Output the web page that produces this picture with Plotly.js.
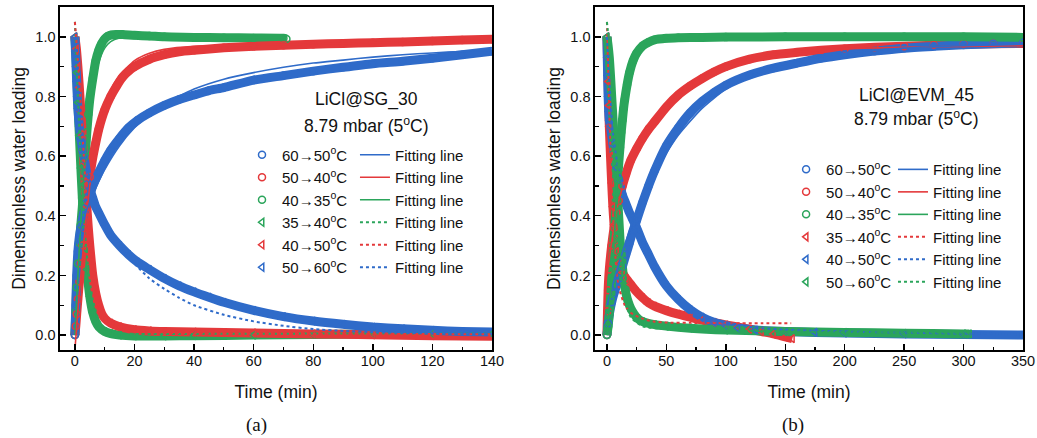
<!DOCTYPE html>
<html>
<head>
<meta charset="utf-8">
<script src="https://cdn.plot.ly/plotly-3.0.1.min.js"></script>
<style>html,body{margin:0;padding:0;background:#fff;}#chart{width:1037px;height:438px;}</style>
</head>
<body>
<div id="chart"></div>
<script>
// ---------- Panel (a): LiCl@SG_30 ----------
const a_t_60to50 = [0, 0.3, 0.6, 1, 1.5, 2, 3, 4, 5, 6, 8, 10, 12, 15, 18, 21, 25, 30, 35, 40, 45, 50, 60, 70, 80, 90, 100, 110, 120, 130, 140];
const a_y_60to50 = [0.0, 0.1, 0.2, 0.28, 0.33, 0.36, 0.41, 0.445, 0.47, 0.50, 0.545, 0.585, 0.62, 0.66, 0.695, 0.72, 0.745, 0.77, 0.79, 0.805, 0.82, 0.83, 0.855, 0.87, 0.885, 0.898, 0.91, 0.918, 0.928, 0.94, 0.952];
const a_ft_60to50 = [0, 2, 4, 6, 8, 10, 15, 20, 25, 30, 40, 50, 60, 70, 80, 90, 100, 110, 120, 130, 140];
const a_fy_60to50 = [0.3, 0.36, 0.42, 0.47, 0.515, 0.555, 0.635, 0.695, 0.74, 0.775, 0.825, 0.858, 0.88, 0.898, 0.912, 0.922, 0.932, 0.94, 0.946, 0.951, 0.955];

const a_t_50to40 = [0, 0.3, 0.6, 1, 1.5, 2, 2.5, 3, 4, 5, 6, 7, 8, 10, 12, 14, 16, 18, 20, 25, 30, 35, 40, 50, 60, 70, 80, 90, 100, 110, 120, 130, 140];
const a_y_50to40 = [0.0, 0.03, 0.07, 0.12, 0.18, 0.24, 0.3, 0.36, 0.45, 0.53, 0.595, 0.645, 0.69, 0.755, 0.8, 0.835, 0.865, 0.885, 0.9, 0.925, 0.94, 0.95, 0.955, 0.963, 0.968, 0.972, 0.975, 0.978, 0.98, 0.983, 0.986, 0.989, 0.992];
const a_ft_50to40 = [0, 1, 2, 3, 4, 5, 6, 8, 10, 12, 15, 20, 25, 30, 40, 60, 80, 100, 120, 140];
const a_fy_50to40 = [-0.05, 0.08, 0.2, 0.31, 0.41, 0.5, 0.57, 0.68, 0.76, 0.82, 0.87, 0.92, 0.945, 0.958, 0.968, 0.972, 0.976, 0.98, 0.985, 0.99];

const a_t_40to35 = [0, 0.3, 0.6, 1, 1.5, 2, 2.5, 3, 3.5, 4, 4.5, 5, 6, 7, 8, 9, 10, 11, 12, 14, 16, 20, 25, 30, 40, 50, 60, 70, 71];
const a_y_40to35 = [0.0, 0.08, 0.16, 0.24, 0.31, 0.37, 0.43, 0.5, 0.6, 0.68, 0.74, 0.79, 0.86, 0.92, 0.955, 0.978, 0.993, 1.002, 1.006, 1.008, 1.008, 1.005, 1.003, 1.0, 0.998, 0.997, 0.996, 0.995, 0.993];
const a_ft_40to35 = [0, 1, 2, 3, 4, 5, 6, 7, 8, 10, 12, 15, 20, 30, 50, 71];
const a_fy_40to35 = [0.0, 0.2, 0.38, 0.53, 0.65, 0.75, 0.82, 0.875, 0.915, 0.962, 0.984, 0.996, 1.0, 1.0, 0.999, 0.997];

const a_t_35to40 = [0, 0.3, 0.6, 1, 1.5, 2, 2.5, 3, 3.5, 4, 5, 6, 7, 8, 10, 12, 15, 20, 30, 40, 60, 80, 100, 120, 140];
const a_y_35to40 = [1.0, 0.95, 0.88, 0.78, 0.67, 0.56, 0.46, 0.37, 0.29, 0.22, 0.13, 0.075, 0.045, 0.028, 0.012, 0.005, 0.0, -0.003, -0.003, -0.002, 0.0, 0.002, 0.003, 0.004, 0.005];
const a_ft_35to40 = [0, 1, 2, 3, 4, 5, 6, 8, 10, 15, 20, 40, 80, 140];
const a_fy_35to40 = [1.05, 0.8, 0.58, 0.4, 0.27, 0.18, 0.12, 0.05, 0.022, 0.006, 0.004, 0.004, 0.005, 0.005];

const a_t_40to50 = [0, 0.5, 1, 1.5, 2, 2.5, 3, 3.5, 4, 4.5, 5, 6, 7, 8, 9, 10, 12, 15, 20, 25, 30, 40, 60, 80, 100, 120, 140];
const a_y_40to50 = [1.0, 0.96, 0.9, 0.83, 0.75, 0.67, 0.58, 0.5, 0.43, 0.36, 0.3, 0.2, 0.14, 0.1, 0.072, 0.056, 0.04, 0.028, 0.018, 0.014, 0.012, 0.01, 0.007, 0.004, 0.001, -0.002, -0.004];
const a_ft_40to50 = [0, 1, 2, 3, 4, 5, 6, 8, 10, 15, 20, 40, 80, 140];
const a_fy_40to50 = [1.05, 0.92, 0.77, 0.6, 0.45, 0.33, 0.24, 0.12, 0.065, 0.025, 0.012, 0.006, 0.004, 0.003];

const a_t_50to60 = [0, 0.2, 0.4, 0.6, 0.8, 1, 1.5, 2, 3, 4, 5, 6, 7, 8, 10, 12, 15, 18, 21, 25, 30, 35, 40, 45, 50, 60, 70, 80, 90, 100, 110, 120, 130, 140];
const a_y_50to60 = [1.0, 0.95, 0.9, 0.85, 0.8, 0.76, 0.7, 0.66, 0.6, 0.54, 0.49, 0.46, 0.43, 0.41, 0.37, 0.335, 0.3, 0.27, 0.245, 0.22, 0.19, 0.165, 0.145, 0.127, 0.11, 0.083, 0.062, 0.047, 0.036, 0.027, 0.021, 0.016, 0.012, 0.01];
const a_ft_50to60 = [0, 2, 5, 8, 12, 16, 20, 25, 30, 35, 40, 50, 60, 70, 80, 90, 100, 120, 140];
const a_fy_50to60 = [1.0, 0.72, 0.52, 0.43, 0.35, 0.29, 0.24, 0.19, 0.155, 0.125, 0.1, 0.068, 0.046, 0.031, 0.02, 0.014, 0.01, 0.006, 0.004];

// ---------- Panel (b): LiCl@EVM_45 ----------
const b_t_60to50 = [0, 1, 2, 4, 6, 8, 10, 13, 16, 19, 22, 25, 30, 35, 40, 50, 60, 70, 80, 90, 100, 120, 140, 160, 180, 200, 225, 250, 275, 300, 325, 350];
const b_y_60to50 = [0.0, 0.04, 0.07, 0.11, 0.14, 0.165, 0.19, 0.23, 0.27, 0.31, 0.35, 0.385, 0.445, 0.5, 0.55, 0.635, 0.695, 0.745, 0.783, 0.813, 0.838, 0.872, 0.895, 0.912, 0.928, 0.94, 0.952, 0.962, 0.968, 0.973, 0.977, 0.98];
const b_ft_60to50 = [0, 5, 10, 20, 30, 40, 50, 60, 80, 100, 120, 150, 200, 250, 300, 350];
const b_fy_60to50 = [0.1, 0.17, 0.24, 0.36, 0.46, 0.54, 0.61, 0.67, 0.76, 0.825, 0.868, 0.91, 0.945, 0.962, 0.97, 0.975];

const b_t_50to40 = [0, 0.5, 1, 2, 4, 6, 8, 10, 13, 16, 20, 25, 30, 35, 40, 50, 60, 70, 80, 90, 100, 120, 140, 160, 180, 200, 225, 250, 275, 300, 325, 350];
const b_y_50to40 = [0.0, 0.08, 0.15, 0.22, 0.3, 0.36, 0.41, 0.45, 0.5, 0.54, 0.585, 0.625, 0.66, 0.69, 0.715, 0.765, 0.805, 0.835, 0.86, 0.882, 0.9, 0.925, 0.94, 0.948, 0.955, 0.96, 0.965, 0.968, 0.972, 0.975, 0.977, 0.978];
const b_ft_50to40 = [0, 5, 10, 20, 30, 40, 60, 80, 100, 125, 150, 200, 250, 300, 350];
const b_fy_50to40 = [0.2, 0.34, 0.45, 0.58, 0.66, 0.72, 0.81, 0.87, 0.905, 0.93, 0.945, 0.96, 0.965, 0.968, 0.97];

const b_t_40to35 = [0, 1, 2, 3, 4, 5, 6, 7, 8, 9, 10, 11, 12, 13, 14, 15, 17, 19, 22, 25, 30, 35, 40, 50, 60, 80, 100, 150, 200, 250, 300, 350];
const b_y_40to35 = [0.0, 0.03, 0.07, 0.12, 0.18, 0.25, 0.32, 0.39, 0.46, 0.52, 0.58, 0.63, 0.68, 0.72, 0.76, 0.79, 0.84, 0.88, 0.92, 0.945, 0.97, 0.982, 0.99, 0.995, 0.997, 0.998, 0.999, 1.0, 1.0, 1.0, 1.0, 0.998];
const b_ft_40to35 = [0, 5, 10, 15, 20, 25, 30, 40, 60, 100, 200, 350];
const b_fy_40to35 = [0.0, 0.24, 0.6, 0.8, 0.9, 0.95, 0.975, 0.992, 0.999, 1.0, 1.0, 1.0];

const b_t_35to40 = [0, 0.5, 1, 1.5, 2, 3, 4, 5, 6, 7, 8, 10, 13, 16, 20, 25, 30, 35, 40, 50, 60, 70, 80, 90, 100, 110, 120, 130, 140, 150, 156];
const b_y_35to40 = [1.0, 0.93, 0.85, 0.77, 0.7, 0.6, 0.51, 0.43, 0.37, 0.32, 0.28, 0.24, 0.21, 0.19, 0.17, 0.145, 0.125, 0.108, 0.097, 0.082, 0.07, 0.06, 0.05, 0.042, 0.034, 0.027, 0.02, 0.012, 0.004, -0.006, -0.012];
const b_ft_35to40 = [0, 2, 4, 6, 8, 10, 15, 20, 30, 40, 50, 70, 100, 130, 155];
const b_fy_35to40 = [1.05, 0.75, 0.5, 0.33, 0.22, 0.16, 0.1, 0.075, 0.055, 0.045, 0.042, 0.041, 0.04, 0.04, 0.04];

const b_t_40to50 = [0, 0.3, 0.6, 1, 1.5, 2, 3, 5, 8, 10, 13, 16, 19, 22, 25, 30, 35, 40, 50, 60, 70, 80, 90, 100, 110, 125, 150, 175, 200, 250, 300, 350];
const b_y_40to50 = [1.0, 0.93, 0.87, 0.8, 0.75, 0.72, 0.7, 0.64, 0.56, 0.52, 0.47, 0.44, 0.41, 0.385, 0.36, 0.31, 0.27, 0.23, 0.165, 0.12, 0.085, 0.06, 0.043, 0.032, 0.024, 0.017, 0.012, 0.009, 0.007, 0.004, 0.002, 0.0];
const b_ft_40to50 = [0, 5, 10, 20, 30, 40, 60, 80, 100, 125, 150, 200, 250, 300, 350];
const b_fy_40to50 = [1.0, 0.68, 0.55, 0.42, 0.32, 0.24, 0.13, 0.07, 0.04, 0.025, 0.018, 0.012, 0.008, 0.005, 0.003];

const b_t_50to60 = [0, 1, 2, 3, 4, 5, 6, 7, 8, 9, 10, 11, 12, 13, 14, 16, 18, 20, 23, 26, 30, 40, 50, 70, 100, 150, 200, 250, 300, 305];
const b_y_50to60 = [1.0, 0.97, 0.93, 0.87, 0.8, 0.73, 0.66, 0.6, 0.54, 0.46, 0.39, 0.32, 0.27, 0.23, 0.19, 0.14, 0.11, 0.09, 0.07, 0.055, 0.045, 0.035, 0.03, 0.023, 0.017, 0.012, 0.009, 0.006, 0.004, 0.004];
const b_ft_50to60 = [0, 2, 4, 6, 8, 10, 12, 15, 20, 30, 50, 100, 200, 305];
const b_fy_50to60 = [1.05, 0.97, 0.85, 0.68, 0.5, 0.35, 0.24, 0.13, 0.06, 0.03, 0.02, 0.015, 0.01, 0.008];

// legend / text labels
const labels = ['60→50<sup>o</sup>C', '50→40<sup>o</sup>C', '40→35<sup>o</sup>C', '35→40<sup>o</sup>C', '40→50<sup>o</sup>C', '50→60<sup>o</sup>C'];
const fitLabel = 'Fitting line';

const BLUE = '#2f6bc9', RED = '#e4393b', GREEN = '#2ba55b';

function band(x, y, color, xa, ya) {
  return {x: x, y: y, xaxis: xa, yaxis: ya, type: 'scatter', mode: 'lines',
    line: {color: color, width: 9, shape: 'spline', smoothing: 0.6},
    showlegend: false, hoverinfo: 'skip'};
}
function pts(x, y, color, symbol, name, xa, ya, leg, rank) {
  return {x: x, y: y, xaxis: xa, yaxis: ya, type: 'scatter', mode: 'markers', name: name,
    marker: {symbol: symbol, size: 7, color: color, line: {color: color, width: 1.5}},
    legend: leg, legendrank: rank, showlegend: true};
}
function fit(x, y, color, dash, xa, ya, leg, rank) {
  return {x: x, y: y, xaxis: xa, yaxis: ya, type: 'scatter', mode: 'lines', name: fitLabel,
    line: {color: color, width: dash === 'solid' ? 1.6 : 2, dash: dash, shape: 'spline', smoothing: 0.6},
    legend: leg, legendrank: rank, showlegend: true};
}

// panel series tables: [t, y, fit t, fit y, color, symbol, dash, label index]
const seriesA = [
  [a_t_40to35, a_y_40to35, a_ft_40to35, a_fy_40to35, GREEN, 'circle-open', 'solid', 2],
  [a_t_35to40, a_y_35to40, a_ft_35to40, a_fy_35to40, GREEN, 'triangle-left-open', 'dot', 3],
  [a_t_50to40, a_y_50to40, a_ft_50to40, a_fy_50to40, RED, 'circle-open', 'solid', 1],
  [a_t_40to50, a_y_40to50, a_ft_40to50, a_fy_40to50, RED, 'triangle-left-open', 'dot', 4],
  [a_t_60to50, a_y_60to50, a_ft_60to50, a_fy_60to50, BLUE, 'circle-open', 'solid', 0],
  [a_t_50to60, a_y_50to60, a_ft_50to60, a_fy_50to60, BLUE, 'triangle-left-open', 'dot', 5]
];
const seriesB = [
  [b_t_50to40, b_y_50to40, b_ft_50to40, b_fy_50to40, RED, 'circle-open', 'solid', 1],
  [b_t_35to40, b_y_35to40, b_ft_35to40, b_fy_35to40, RED, 'triangle-left-open', 'dot', 3],
  [b_t_60to50, b_y_60to50, b_ft_60to50, b_fy_60to50, BLUE, 'circle-open', 'solid', 0],
  [b_t_40to50, b_y_40to50, b_ft_40to50, b_fy_40to50, BLUE, 'triangle-left-open', 'dot', 4],
  [b_t_40to35, b_y_40to35, b_ft_40to35, b_fy_40to35, GREEN, 'circle-open', 'solid', 2],
  [b_t_50to60, b_y_50to60, b_ft_50to60, b_fy_50to60, GREEN, 'triangle-left-open', 'dot', 5]
];

const traces = [];
function addPanel(series, xa, ya, legM, legF) {
  series.forEach(s => traces.push(band(s[0], s[1], s[4], xa, ya)));
  series.forEach(s => traces.push(pts(s[0], s[1], s[4], s[5], labels[s[7]], xa, ya, legM, s[7] + 1)));
  series.forEach(s => traces.push(fit(s[2], s[3], s[4], s[6], xa, ya, legF, s[7] + 1)));
}
addPanel(seriesA, 'x', 'y', 'legend', 'legend2');
addPanel(seriesB, 'x2', 'y2', 'legend3', 'legend4');

const FONT = 'Liberation Sans, Arial, sans-serif';
function xaxisDef(domain, range, dtick, minorDtick, anchor) {
  return {domain: domain, range: range, anchor: anchor, dtick: dtick, tick0: 0,
    showline: true, linecolor: '#000', linewidth: 1.6, mirror: true,
    ticks: 'inside', ticklen: 6, tickwidth: 1.4, tickcolor: '#000',
    minor: {ticks: 'inside', ticklen: 3.5, tickwidth: 1.2, tickcolor: '#000', dtick: minorDtick},
    showgrid: false, zeroline: false, ticklabelstandoff: -3,
    tickfont: {family: FONT, size: 14.5, color: '#111'},
    title: {text: 'Time (min)', font: {family: FONT, size: 17.5, color: '#111'}, standoff: 18}};
}
function yaxisDef(anchor, domain) {
  return {domain: domain, range: [-0.05, 1.10], anchor: anchor, dtick: 0.2, tick0: 0,
    tickformat: '.1f',
    showline: true, linecolor: '#000', linewidth: 1.6, mirror: true,
    ticks: 'inside', ticklen: 6, tickwidth: 1.4, tickcolor: '#000',
    minor: {ticks: 'inside', ticklen: 3.5, tickwidth: 1.2, tickcolor: '#000', dtick: 0.1},
    showgrid: false, zeroline: false, ticklabelstandoff: 0,
    tickfont: {family: FONT, size: 14.5, color: '#111'},
    title: {text: 'Dimensionless water loading', font: {family: FONT, size: 17.5, color: '#111'}, standoff: 5}};
}
function legendDef(x, y) {
  return {x: x, y: y, xanchor: 'left', yanchor: 'top', bgcolor: 'rgba(0,0,0,0)', borderwidth: 0,
    font: {family: FONT, size: 15, color: '#111'}, tracegroupgap: 0, itemclick: false};
}
function note(text, x, y, family, size) {
  return {text: text, xref: 'paper', yref: 'paper', x: x, y: y, xanchor: 'center', yanchor: 'middle',
    showarrow: false, font: {family: family, size: size, color: '#111'}};
}
const SERIF = 'Liberation Serif, Times New Roman, serif';

const layout = {
  width: 1037, height: 438,
  margin: {l: 60, r: 14, t: 7, b: 88},
  paper_bgcolor: '#fff', plot_bgcolor: '#fff',
  showlegend: true,
  xaxis: xaxisDef([0, 0.4486], [-5, 140], 20, 10, 'y'),
  yaxis: yaxisDef('x', [0, 1]),
  xaxis2: xaxisDef([0.5556, 1], [-10, 350], 50, 25, 'y2'),
  yaxis2: yaxisDef('x2', [0, 1]),
  legend: legendDef(0.189, 0.6166),
  legend2: legendDef(0.3063, 0.6166),
  legend3: legendDef(0.754, 0.574),
  legend4: legendDef(0.865, 0.574),
  annotations: [
    note('LiCl@SG_30', 0.3185, 0.7289, FONT, 17.5),
    note('8.79 mbar (5<sup>o</sup>C)', 0.3185, 0.656, FONT, 17.5),
    note('LiCl@EVM_45', 0.8896, 0.7434, FONT, 17.5),
    note('8.79 mbar (5<sup>o</sup>C)', 0.8896, 0.6755, FONT, 17.5),
    note('(a)', 0.2043, -0.2187, SERIF, 19),
    note('(b)', 0.7615, -0.2187, SERIF, 19)
  ]
};

Plotly.newPlot('chart', traces, layout, {displayModeBar: false, staticPlot: true});
</script>
</body>
</html>
